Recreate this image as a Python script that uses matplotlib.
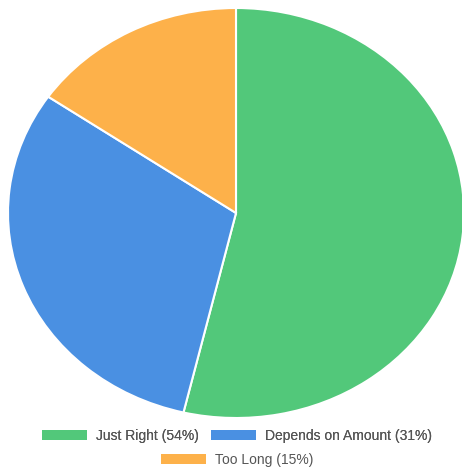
import matplotlib.pyplot as plt
from matplotlib.patches import Patch

labels = ['Just Right', 'Depends on Amount', 'Too Long']
shares = [53.7, 30.9, 15.4]          # slice sizes
label_pct = [54, 31, 15]             # rounded values shown in the legend
colors = ['#52C87A', '#4A90E2', '#FDB14A']

plt.rcParams['font.family'] = ['Liberation Sans', 'DejaVu Sans']

W, H = 462, 469
fig = plt.figure(figsize=(W / 100, H / 100), dpi=100)
# the pie in the reference is a bit wider than tall
ax = fig.add_axes([8 / W, (H - 418) / H, 456 / W, 410 / H])
ax.pie(shares, colors=colors, startangle=90, counterclock=False,
       wedgeprops=dict(edgecolor='white', linewidth=1.5))
ax.set_aspect('auto')
ax.set_xlim(-1, 1)
ax.set_ylim(-1, 1)
ax.axis('off')

handles = [Patch(facecolor=c, edgecolor='none') for c in colors]
texts = [f'{l} ({p}%)' for l, p in zip(labels, label_pct)]

# legend rows are centred under the pie, not the figure
cx = 237 / W
leg1 = fig.legend(handles[:2], texts[:2], loc='center', ncol=2,
                  bbox_to_anchor=(cx, 1 - 436 / H), frameon=False,
                  fontsize=10, handlelength=3.2, handleheight=0.75,
                  columnspacing=0.9, handletextpad=0.65, labelcolor='#555555')
fig.add_artist(leg1)
fig.legend(handles[2:], texts[2:], loc='center',
           bbox_to_anchor=(cx, 1 - 460 / H), frameon=False,
           fontsize=10, handlelength=3.2, handleheight=0.75,
           handletextpad=0.65, labelcolor='#555555')

fig.savefig('out.png', dpi=100)
